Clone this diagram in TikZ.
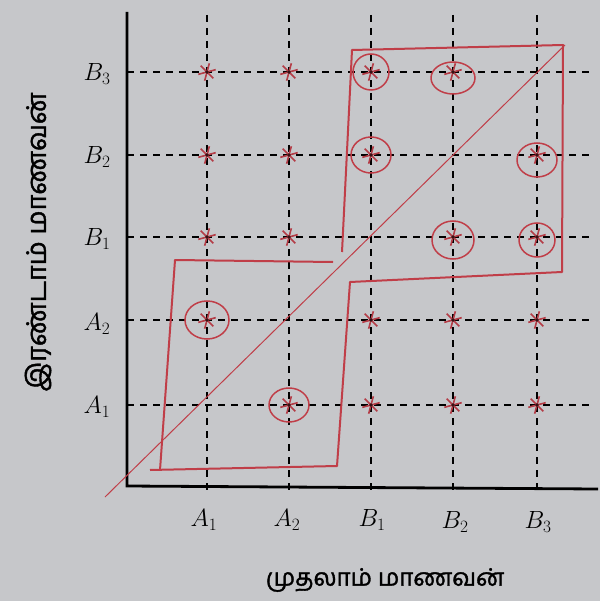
\documentclass[tikz,border=0pt]{standalone}
\usepackage{fontspec}
\newfontfamily\tamil[Script=Tamil,FakeBold=1.5]{Hind Madurai}
\definecolor{paper}{RGB}{198,199,202}
\definecolor{pen}{RGB}{192,62,72}
\definecolor{markc}{RGB}{180,60,70}
\begin{document}
\begin{tikzpicture}[x=1pt,y=-1pt,
  gridline/.style={black,line width=2.6pt,dash pattern=on 7pt off 6pt},
  axisline/.style={black,line width=2.8pt},
  redline/.style={pen,line width=2pt,line join=round},
  ring/.style={pen,line width=1.5pt},
  lab/.style={font=\fontsize{25}{29}\selectfont,inner sep=0pt},
  tlab/.style={inner sep=0pt},
  ast/.pic={\foreach \a in {15,75,135}{\draw[markc,line width=1.6pt] (\a:9pt) -- (\a+180:9pt);}
            \fill[black!70!markc] (0,0) circle (1.8pt);}]
\useasboundingbox (0,0) rectangle (600,601);
\fill[paper] (0,0) rectangle (600,601);
% coordinates
\foreach \x [count=\i] in {207,289,371,453,537}{
  \coordinate (vt\i) at (\x,15);
  \coordinate (vb\i) at (\x,496);
}
\foreach \y [count=\j] in {405,320,237,155,72}{
  \coordinate (hl\j) at (127,\y);
  \coordinate (hr\j) at (592,\y);
}
% grid
\foreach \i in {1,...,5}{
  \draw[gridline] (vt\i) -- (vb\i);
  \draw[gridline] (hl\i) -- (hr\i);
}
% axes
\coordinate (ytop) at (127,12);
\coordinate (corner) at (127,486);
\coordinate (xend) at (598,489);
\draw[axisline] (ytop) -- (corner) -- (xend);
% diagonal
\coordinate (d0) at (105,497);
\coordinate (d1) at (565,45);
\draw[pen,line width=1pt] (d0) -- (d1);
% red boundaries
\draw[redline] (333,262) -- (175,260) -- (160,470);
\draw[redline] (150,470) -- (337,466) -- (350,282) -- (562,272) -- (563,45) -- (352,50) -- (342,252);
% marks
\foreach \x [count=\i] in {207,289,371,453,537}{
  \foreach \y [count=\j] in {405,320,237,155,72}{
    \ifnum\i=\j\else \pic at (\x,\y) {ast}; \fi
  }
}
% rings
\foreach \x/\y/\rx/\ry in {207/320/22/19, 289/405/20/17, 371/72/18/18, 453/78/22/16,
                          371/155/20/18, 537/160/20/17, 453/240/21/19, 537/240/18/17}{
  \draw[ring] (\x,\y) ellipse [x radius=\rx pt, y radius=\ry pt];
}
% axis labels
\node[lab] (yB3) at (97,74) {$B_3$};
\node[lab] (yB2) at (97,157) {$B_2$};
\node[lab] (yB1) at (97,239) {$B_1$};
\node[lab] (yA2) at (97,324) {$A_2$};
\node[lab] (yA1) at (97,407) {$A_1$};
\node[lab] (xA1) at (204,520) {$A_1$};
\node[lab] (xA2) at (287,520) {$A_2$};
\node[lab] (xB1) at (372,520) {$B_1$};
\node[lab] (xB2) at (455,522) {$B_2$};
\node[lab] (xB3) at (538,522) {$B_3$};
\node[tlab,font=\fontsize{24}{28}\selectfont\tamil] (xt) at (385,580) {முதலாம் மாணவன்};
\node[tlab,rotate=90,font=\fontsize{27}{31}\selectfont\tamil] (yt) at (38,242) {இரண்டாம் மாணவன்};
\end{tikzpicture}
\end{document}
